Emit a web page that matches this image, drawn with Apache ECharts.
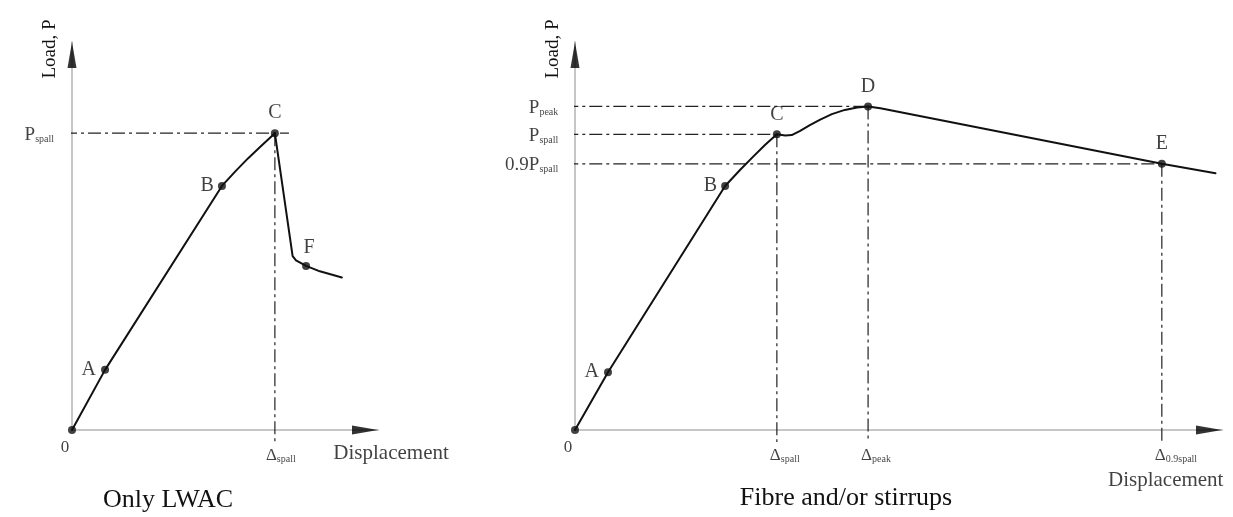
<!DOCTYPE html>
<html>
<head>
<meta charset="utf-8">
<script src="https://cdn.jsdelivr.net/npm/echarts@6/dist/echarts.min.js"></script>
<style>
  html, body { margin: 0; padding: 0; background: #fff; }
  #chart { width: 1233px; height: 517px; }
</style>
</head>
<body>
<div id="chart"></div>
<script>
// ---- Only LWAC: load-displacement response (normalised units, 0..100) ----
const lwacCurveRise = [[0, 0], [10.8, 15.5], [49.0, 62.9], [53.3, 66.6], [57.5, 70.0], [61.8, 73.2], [66.3, 76.5]];
const lwacCurveDrop = [[66.3, 76.5], [72.1, 44.8], [73.2, 43.7], [76.5, 42.3], [81.0, 40.9], [88.2, 39.3]];
const lwacPoints = [[0, 0], [10.8, 15.5], [49.0, 62.9], [66.3, 76.5], [76.5, 42.3]];
const lwacPointNames = ['0', 'A', 'B', 'C', 'F'];
const lwacLoadNames = ['spall'];
const lwacLoadValues = [76.5];
const lwacDispNames = ['spall'];
const lwacDispValues = [66.3];

// ---- Fibre and/or stirrups ----
const fibreCurveRise = [[0, 0], [5.1, 14.9], [23.2, 62.9], [25.5, 67.0], [27.5, 70.4], [29.4, 73.5],
  [31.2, 76.2], [32.5, 75.9], [33.5, 76.0], [34.8, 77.1], [36.3, 78.6], [37.9, 80.0], [39.7, 81.4],
  [41.7, 82.5], [43.6, 83.1], [45.3, 83.4]];
const fibreCurveSoften = [[45.3, 83.4], [47.2, 82.9], [90.7, 68.6], [99.0, 66.2]];
const fibrePoints = [[0, 0], [5.1, 14.9], [23.2, 62.9], [31.2, 76.2], [45.3, 83.4], [90.7, 68.6]];
const fibrePointNames = ['0', 'A', 'B', 'C', 'D', 'E'];
const fibreLoadPrefix = ['', '', '0.9'];
const fibreLoadNames = ['peak', 'spall', 'spall'];
const fibreLoadValues = [83.4, 76.2, 68.6];
const fibreLoadEnds = [45.3, 31.2, 90.7];
const fibreDispNames = ['spall', 'peak', '0.9spall'];
const fibreDispValues = [31.2, 45.3, 90.7];
const fibreDispTops = [76.2, 83.4, 68.6];

const FONT = 'Liberation Serif';
const INK = '#111';
const AXIS_GREY = '#c6c6c6';
const GUIDE = { color: '#222', width: 1.2, type: [13, 4, 3, 4] };

const rich = {
  p: { fontSize: 19, fontFamily: FONT, color: INK, verticalAlign: 'bottom', lineHeight: 22 },
  s: { fontSize: 10, fontFamily: FONT, color: INK, verticalAlign: 'bottom', lineHeight: 20 },
  d: { fontSize: 17, fontFamily: FONT, color: INK, verticalAlign: 'bottom', lineHeight: 22 },
  w: { fontSize: 21, fontFamily: FONT, color: INK, verticalAlign: 'bottom', lineHeight: 22 }
};

// where each point letter sits relative to its marker
const letterPlace = {
  '0': { position: 'bottom', offset: [-7, 0], fontSize: 17 },
  'A': { position: 'left', distance: 5 },
  'B': { position: 'left', distance: 4 },
  'C': { position: 'top', distance: 6 },
  'D': { position: 'top', distance: 6 },
  'E': { position: 'top', distance: 6 },
  'F': { position: 'top', offset: [3, 0], distance: 4 }
};

function curve(grid, data) {
  return {
    type: 'line', xAxisIndex: grid, yAxisIndex: grid, data: data,
    smooth: false, symbol: 'none', silent: true, z: 4,
    lineStyle: { color: INK, width: 2, join: 'round', cap: 'round' }
  };
}

function guide(grid, from, to) {
  return {
    type: 'line', xAxisIndex: grid, yAxisIndex: grid, data: [from, to],
    symbol: 'none', silent: true, clip: false, z: 2, lineStyle: GUIDE
  };
}

function markers(grid, pts, names) {
  return {
    type: 'scatter', xAxisIndex: grid, yAxisIndex: grid, symbol: 'circle', symbolSize: 8,
    itemStyle: { color: INK }, z: 5, silent: true,
    data: pts.map((p, i) => {
      const pl = letterPlace[names[i]];
      return {
        value: p,
        label: Object.assign({
          show: true, formatter: names[i], fontFamily: FONT, fontSize: 20, color: INK
        }, pl)
      };
    })
  };
}

function texts(grid, items) {
  return {
    type: 'scatter', xAxisIndex: grid, yAxisIndex: grid, symbolSize: 0, silent: true, clip: false,
    data: items.map(it => ({
      value: it.at,
      label: Object.assign({ show: true, formatter: it.text, rich: rich, color: INK }, it.label)
    }))
  };
}

function arrows(grid) {
  return [
    {
      type: 'scatter', xAxisIndex: grid, yAxisIndex: grid, silent: true, clip: false, z: 6,
      symbol: 'path://M5,0 L10,26 L0,26 Z', symbolSize: [9, 26], symbolOffset: [0, 13],
      itemStyle: { color: '#000' }, data: [[0, 100]]
    },
    {
      type: 'scatter', xAxisIndex: grid, yAxisIndex: grid, silent: true, clip: false, z: 6,
      symbol: 'path://M26,5 L0,0 L0,10 Z', symbolSize: [26, 9], symbolOffset: [-13, 0],
      itemStyle: { color: '#000' }, data: [[100, 0]]
    }
  ];
}

function axisPair(grid) {
  const common = {
    gridIndex: grid, type: 'value', min: 0, max: 100,
    axisLine: { show: true, onZero: true, lineStyle: { color: AXIS_GREY, width: 2 } },
    axisTick: { show: false }, axisLabel: { show: false }, splitLine: { show: false }
  };
  return [Object.assign({}, common), Object.assign({}, common)];
}

const series = [];

// Only LWAC panel (grid 0)
series.push(curve(0, lwacCurveRise));
series.push(curve(0, lwacCurveDrop));
lwacLoadValues.forEach((v, i) => {
  series.push(guide(0, [-2.6, v], [lwacDispValues[i] + 4.6, v]));
});
lwacDispValues.forEach((v, i) => {
  series.push(guide(0, [v, lwacLoadValues[i]], [v, -3.5]));
});
series.push(markers(0, lwacPoints, lwacPointNames));
series.push(texts(0, [
  ...lwacLoadNames.map((n, i) => ({
    at: [-2.6, lwacLoadValues[i]], text: '{p|P}{s|' + n + '}',
    label: { position: 'left', distance: 10 }
  })),
  ...lwacDispNames.map((n, i) => ({
    at: [lwacDispValues[i], -5.9], text: '{d|\u0394}{s|' + n + '}',
    label: { position: 'right', distance: -9 }
  })),
  { at: [85.4, -5.9], text: '{w|Displacement}', label: { position: 'right', distance: 0 } }
]));
series.push(...arrows(0));

// Fibre and/or stirrups panel (grid 1)
series.push(curve(1, fibreCurveRise));
series.push(curve(1, fibreCurveSoften));
fibreLoadValues.forEach((v, i) => {
  series.push(guide(1, [-1.5, v], [fibreLoadEnds[i] + 0.4, v]));
});
fibreDispValues.forEach((v, i) => {
  series.push(guide(1, [v, fibreDispTops[i]], [v, -3.1]));
});
series.push(markers(1, fibrePoints, fibrePointNames));
series.push(texts(1, [
  ...fibreLoadNames.map((n, i) => ({
    at: [-1.5, fibreLoadValues[i]], text: '{p|' + fibreLoadPrefix[i] + 'P}{s|' + n + '}',
    label: { position: 'left', distance: 7 }
  })),
  ...fibreDispNames.map((n, i) => ({
    at: [fibreDispValues[i], -5.9], text: '{d|\u0394}{s|' + n + '}',
    label: { position: 'right', distance: -7 }
  })),
  { at: [91.3, -12.9], text: '{w|Displacement}', label: { position: 'inside' } }
]));
series.push(...arrows(1));

const [x0, y0] = axisPair(0);
const [x1, y1] = axisPair(1);

const chart = echarts.init(document.getElementById('chart'), null, { renderer: 'canvas' });
chart.setOption({
  backgroundColor: '#ffffff',
  animation: false,
  grid: [
    { left: 72, top: 42, width: 306, height: 388 },
    { left: 575, top: 42, width: 647, height: 388 }
  ],
  xAxis: [x0, x1],
  yAxis: [y0, y1],
  graphic: [
    { type: 'text', x: 50, y: 49, rotation: Math.PI / 2,
      style: { text: 'Load, P', font: '19px "' + FONT + '"', fill: INK, align: 'center', verticalAlign: 'middle' } },
    { type: 'text', x: 553, y: 49, rotation: Math.PI / 2,
      style: { text: 'Load, P', font: '19px "' + FONT + '"', fill: INK, align: 'center', verticalAlign: 'middle' } },
    { type: 'text', x: 168, y: 500,
      style: { text: 'Only LWAC', font: '26px "' + FONT + '"', fill: INK, align: 'center', verticalAlign: 'middle' } },
    { type: 'text', x: 846, y: 498,
      style: { text: 'Fibre and/or stirrups', font: '26px "' + FONT + '"', fill: INK, align: 'center', verticalAlign: 'middle' } }
  ],
  series: series
});
</script>
</body>
</html>
